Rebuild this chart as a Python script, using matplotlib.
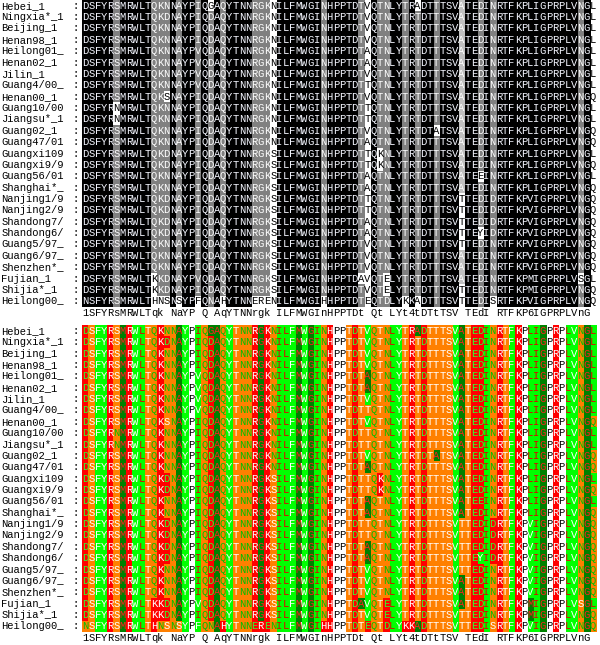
import matplotlib
matplotlib.use('Agg')
import matplotlib.pyplot as plt
import numpy as np
from matplotlib.colors import to_rgb

# sequence names and aligned residues (one string per strain)
names = ["Hebei_1", "Ningxia*_1", "Beijing_1", "Henan98_1", "Heilong01_", "Henan02_1",
         "Jilin_1", "Guang4/00_", "Henan00_1", "Guang10/00", "Jiangsu*_1", "Guang02_1",
         "Guang47/01", "Guangxi109", "Guangxi9/9", "Guang56/01", "Shanghai*_", "Nanjing1/9",
         "Nanjing2/9", "Shandong7/", "Shandong6/", "Guang5/97_", "Guang6/97_", "Shenzhen*_",
         "Fujian_1", "Shijia*_1", "Heilong00_"]

seqs = [
    "DSFYRSMRWLTQKNNAYPIQGAQYTNNRGKNILFMWGINHPPTDTVQTNLYTRADTTTSVATEDINRTFKPLIGPRPLVNGL",
    "DSFYRSMRWLTQKDNAYPIQDAQYTNNRGKNILFMWGINHPPTDTVQTNLYTRTDTTTSVATEDINRTFKPLIGPRPLVNGL",
    "DSFYRSMRWLTQKNNAYPIQDAQYTNNRGKNILFMWGINHPPTDTVQTNLYTRTDTTTSVATEDINRTFKPLIGPRPLVNGL",
    "DSFYRSMRWLTQKNNAYPIQDAQYTNNRGKNILFMWGINHPPTDTVQTNLYTRTDTTTSVATEDINRTFKPLIGPRPLVNGL",
    "DSFYRSMRWLTQKNNAYPVQDAQYTNNRGKNILFMWGINHPPTDTAQTNLYTRTDTTTSVATEDINRTFKPLIGPRPLVNGL",
    "DSFYRSMRWLTQKNNAYPVQDAQYTNNRGKNILFMWGINHPPTDTAQTNLYTRTDTTTSVATEDINRTFKPLIGPRPLVNGL",
    "DSFYRSMRWLTQKNNAYPVQDAQYTNNRGKNILFMWGINHPPTDTVQTNLYTRTDTTTSVATEDINRTFKPLIGPRPLVNGL",
    "DSFYRSMRWLTQKNNAYPVQDAQYTNNRGKNILFMWGINHPPTDTTQTNLYTRTDTTTSVATEDINRTFKPLIGPRPLVNGL",
    "DSFYRSMRWLTQKSNAYPIQDAQYTNNRGKNILFMWGINHPPTDTVQTNLYTRTDTTTSVATEDINRTFKPLIGPRPLVNGQ",
    "DSFYRNMRWLTQKNNAYPIQDAQYTNNRGKNILFMWGINHPPTDTTQTNLYTRTDTTTSVATEDINRTFKPLIGPRPLVNGL",
    "DSFYRNMRWLTQKNNAYPIQDAQYTNNRGKNILFMWGINHPPTDTTQTNLYTRTDTTTSVATEDINRTFKPLIGPRPLVNGL",
    "DSFYRSMRWLTQKNNAYPIQDAQYTNNRGKNILFMWGINHPPTDTVQTNLYTRTDTATSVATEDINRTFKPLIGPRPLVNGQ",
    "DSFYRSMRWLTQKNNAYPIQDAQYTNNRGKNILFMWGINHPPTDTAQTNLYTRTDTTTSVATEDINRTFKPLIGPRPLVNGQ",
    "DSFYRSMRWLTQKDNAYPIQDAQYTNNRGKSILFMWGINHPPTDTTQKNLYTRTDTTTSVATEDINRTFKPLIGPRPLVNGL",
    "DSFYRSMRWLTQKDNAYPIQDAQYTNNRGKSILFMWGINHPPTDTTQKNLYTRTDTTTSVATEDINRTFKPLIGPRPLVNGQ",
    "DSFYRSMRWLTQKNNAYPIQDAQYTNNRGKSILFMWGINHPPTDTAQTNLYTRTDTTTSVATEEINRTFKPLIGPRPLVNGL",
    "DSFYRSMRWLTQKNNAYPIQDAQYTNNRGKSILFMWGINHPPTDTAQTNLYTRTDTTTSVATEDINRTFKPLIGPRPLVNGQ",
    "DSFYRSMRWLTQKDNAYPIQDAQYTNNRGKSILFMWGINHPPTDTTQTNLYTRTDTTTSVTTEDIDRTFKPVIGPRPLVNGQ",
    "DSFYRSMRWLTQKDNAYPIQDAQYTNNRGKSILFMWGINHPPTDTTQTNLYTRTDTTTSVTTEDIDRTFKPVIGPRPLVNGQ",
    "DSFYRSMRWLTQKDNAYPIQDAQYTNNRGKSILFMWGINHPPTDTAQTNLYTRTDTTTSVTTEDIDRTFKPVIGPRPLVNGQ",
    "DSFYRSMRWLTQKDNAYPIQDAQYTNNRGKSILFMWGINHPPTDTAQTNLYTRTDTTTSVTTEYIDRTFKPVIGPRPLVNGQ",
    "DSFYRSMRWLTQKNNAYPIQDAQYTNNRGKSILFMWGINHPPTDTVQTNLYTRTDTTTSVTTEDINRTFKPVIGPRPLVNGQ",
    "DSFYRSMRWLTQKNNAYPIQDAQYTNNRGKSILFMWGINHPPTDTVQTNLYTRTDTTTSVATEDINRTFKPVIGPRPLVNGQ",
    "DSFYRSMRWLTQKNNAYPIQDAQYTNNRGKSILFMWGINHPPTDTVQTNLYTRTDTTTSVATEDINRTFKPVIGPRPLVNGQ",
    "DSFYRSMRWLTKKDNAYPVQDAQYTNNRGKSILFMWGINHPPTDAVQTELYTRTDTTTSVATEDINRTFKPMIGPRPLVSGL",
    "DSFYRSMRWLTKKDNAYPIQDAQYTNNRGKSILFMWGINHPPTDTVQTELYTRTDTTTSVTTEDINRTFKPMIGPRPLVNGQ",
    "NSFYRSMRWLTHNSNSYPFQNAHYTNNERENILFMWGIHHPPTDTEQTDLYKKADTTTSVTTEDISRTFKPVIGPRPLVNGQ",
]

consensus = "1SFYRsMRWLTqk NaYP Q AqYTNNrgk ILFMWGInHPPTDt Qt LYt4tDTtTSV TEdI RTFKP6IGPRPLVnG "

# similarity groups used for the grey conservation shading
groups = ["DN", "EQ", "ST", "KR", "FYW", "LIVM"]

# residue property classes for the coloured panel: background, text
prop_bg = {'DEKRH': '#ff0000', 'STNQ': '#ff8000', 'FYWLIV': '#00ff00', 'AGM': '#008000', 'P': '#ffffff'}
prop_fg = {'D': '#30ff30', 'E': '#30ff30', 'K': '#ffffff', 'R': '#ffffff', 'H': '#ffffff',
           'S': '#ffffff', 'T': '#ffffff', 'N': '#00c000', 'Q': '#00c000',
           'F': '#ffffff', 'Y': '#ffffff', 'W': '#ffffff', 'L': '#e00000', 'I': '#e00000', 'V': '#ffffff',
           'A': '#ff2020', 'G': '#ff2020', 'M': '#ff2020', 'P': '#000000'}

X0, CW = 82.0, 6.27
RH = 11.37
TOP_Y0, BOT_Y0 = 5.7, 330.8
FONT = 'Liberation Mono'
FS = 7.6


def group_of(c):
    for g in groups:
        if c in g:
            return g
    return c


n = len(seqs)
L = len(seqs[0])

# conservation level per cell (3 = all, 2 = >=80%, 1 = >=60%)
level = np.zeros((n, L), int)
for j in range(L):
    col = [s[j] for s in seqs]
    mode = max(sorted(set(col)), key=col.count)
    g = group_of(mode)
    sim = sum(c in g for c in col)
    if sim == n:
        lvl = 3
    elif sim / n >= 0.8:
        lvl = 2
    elif sim / n >= 0.6:
        lvl = 1
    else:
        lvl = 0
    for i, c in enumerate(col):
        if c in g:
            level[i, j] = lvl

top_bg = {3: '#000000', 2: '#808080', 1: '#c0c0c0', 0: '#ffffff'}
top_fg = {3: '#f4f6ff', 2: '#ffffff', 1: '#ffffff', 0: '#000000'}


def bg_of(c):
    for k, v in prop_bg.items():
        if c in k:
            return v
    return '#ffffff'


top_img = np.array([[to_rgb(top_bg[level[i, j]]) for j in range(L)] for i in range(n)])
bot_img = np.array([[to_rgb(bg_of(seqs[i][j])) for j in range(L)] for i in range(n)])

fig = plt.figure(figsize=(6.0, 6.45), dpi=100)
ax = fig.add_axes([0, 0, 1, 1])
ax.set_xlim(0, 600)
ax.set_ylim(645, 0)
ax.axis('off')

for y0, img, mode in [(TOP_Y0, top_img, 'top'), (BOT_Y0, bot_img, 'bot')]:
    ax.imshow(img, extent=(X0, X0 + L * CW, y0 - RH / 2 + n * RH, y0 - RH / 2),
              interpolation='nearest', aspect='auto', zorder=1)
    for i in range(n):
        y = y0 + i * RH
        ax.text(1.5, y, names[i], ha='left', va='center', fontsize=FS, family=FONT, color='black')
        ax.text(X0 - CW, y, ':', ha='center', va='center', fontsize=FS, family=FONT, color='black')
        for j, c in enumerate(seqs[i]):
            if mode == 'top':
                fc = top_fg[level[i, j]]
            else:
                fc = prop_fg.get(c, 'black')
            ax.text(X0 + (j + 0.5) * CW, y, c, ha='center', va='center', fontsize=FS,
                    family=FONT, color=fc, zorder=3)
    yc = y0 + n * RH
    for j, c in enumerate(consensus):
        if c != ' ':
            ax.text(X0 + (j + 0.5) * CW, yc, c, ha='center', va='center', fontsize=FS,
                    family=FONT, color='black', zorder=3)

fig.savefig('out.png', dpi=100)
